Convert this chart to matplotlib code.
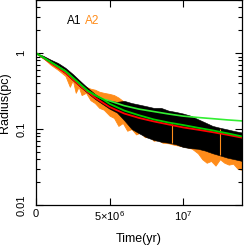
import numpy as np
import matplotlib
matplotlib.use('Agg')
import matplotlib.pyplot as plt
from matplotlib.ticker import LogLocator, NullFormatter, FixedLocator

plt.rcParams['font.family'] = ['Liberation Sans', 'DejaVu Sans']
plt.rcParams['mathtext.fontset'] = 'custom'
plt.rcParams['mathtext.rm'] = 'Liberation Sans'

# time in units of 1e6 yr
t_a1 = [0, 0.5, 1, 1.5, 2, 2.5, 3, 3.5, 4, 4.5, 5, 5.5, 6, 6.5, 7, 7.5, 8, 8.5,
        9, 9.5, 10, 10.5, 11, 11.5, 12, 12.5, 13, 13.5, 14]
a1_top = [1, 0.92, 0.82, 0.74, 0.64, 0.53, 0.43, 0.35, 0.29, 0.25, 0.235, 0.228,
          0.235, 0.22, 0.21, 0.20, 0.19, 0.19, 0.175, 0.168, 0.16, 0.15, 0.135,
          0.122, 0.11, 0.104, 0.099, 0.094, 0.09]
a1_bot = [1, 0.88, 0.74, 0.64, 0.54, 0.44, 0.36, 0.30, 0.25, 0.215, 0.185,
          0.165, 0.13, 0.10, 0.088, 0.078, 0.072, 0.068, 0.066, 0.063, 0.058,
          0.056, 0.055, 0.052, 0.048, 0.045, 0.042, 0.04, 0.038]

t_a2 = [0, 0.5, 1.0, 1.5, 2.0, 2.3, 2.5, 2.7, 2.9, 3.1, 3.4, 3.7, 4.0, 4.3, 4.6,
        5.0, 5.3, 5.6, 5.9, 6.2, 6.5, 6.8, 7.1, 7.4, 7.7, 8.0, 8.3, 8.6, 9.0,
        9.4, 9.8, 10.2, 10.6, 11.0, 11.3, 11.6, 11.9, 12.2, 12.5, 12.8, 13.1,
        13.4, 13.7, 14.0]
a2_top = [1, 0.9, 0.8, 0.68, 0.6, 0.55, 0.5, 0.46, 0.42, 0.39, 0.36, 0.34, 0.33,
          0.31, 0.30, 0.29, 0.28, 0.26, 0.235, 0.20, 0.18, 0.16, 0.15, 0.14,
          0.13, 0.12, 0.11, 0.10, 0.09, 0.08, 0.075, 0.07, 0.065, 0.06, 0.058,
          0.062, 0.055, 0.05, 0.048, 0.047, 0.046, 0.045, 0.044, 0.043]
a2_bot = [1, 0.86, 0.7, 0.6, 0.5, 0.36, 0.44, 0.3, 0.36, 0.28, 0.3, 0.24, 0.22,
          0.19, 0.18, 0.15, 0.14, 0.11, 0.12, 0.095, 0.1, 0.085, 0.09, 0.078,
          0.08, 0.07, 0.072, 0.066, 0.065, 0.062, 0.06, 0.058, 0.055, 0.048,
          0.04, 0.036, 0.038, 0.033, 0.04, 0.036, 0.034, 0.035, 0.03, 0.029]

# thin spikes of A2 seen through A1
spike_t = [9.25, 12.5]
spike_lo = [0.065, 0.045]
spike_hi = [0.115, 0.1]

t_fit = [0, 1, 2, 3, 3.5, 4, 4.5, 5, 6, 7, 8, 9, 10, 11, 12, 13, 14]
fit_red = [1, 0.74, 0.55, 0.37, 0.31, 0.26, 0.225, 0.195, 0.16, 0.14, 0.126,
           0.115, 0.105, 0.098, 0.091, 0.084, 0.077]
fit_green1 = [1, 0.76, 0.58, 0.39, 0.32, 0.28, 0.25, 0.235, 0.203, 0.183, 0.17,
              0.158, 0.148, 0.142, 0.137, 0.132, 0.128]
fit_green2 = [1, 0.76, 0.58, 0.39, 0.32, 0.28, 0.25, 0.215, 0.175, 0.152,
              0.134, 0.122, 0.113, 0.104, 0.096, 0.088, 0.080]

fig = plt.figure(figsize=(2.44, 2.48), dpi=100)
ax = fig.add_axes([36 / 244, 43 / 248, 206 / 244, 205 / 248])

ta1 = np.array(t_a1) * 1e6
ta2 = np.array(t_a2) * 1e6
tf = np.array(t_fit) * 1e6

orange = '#ff8c1a'
ax.fill_between(ta2, a2_bot, a2_top, color=orange, lw=0.6, edgecolor=orange)
ax.fill_between(ta1, a1_bot, a1_top, color='black', lw=0.4, edgecolor='black')
ax.vlines(np.array(spike_t) * 1e6, spike_lo, spike_hi, color=orange, lw=0.8)
ax.plot(tf, fit_red, color='#ff0000', lw=1.3)
ax.plot(tf, fit_green1, color='#33ee33', lw=1.2)
ax.plot(tf, fit_green2, color='#00cc00', lw=1.3)

ax.set_yscale('log')
ax.set_xlim(0, 1.4e7)
ax.set_ylim(0.01, 5)

ax.set_xticks([0, 5e6, 1e7])
ax.set_xticklabels(['0', r'5$\times$10$^6$', r'10$^7$'], fontsize=8)
ax.yaxis.set_major_locator(FixedLocator([0.01, 0.1, 1]))
ax.set_yticklabels(['0.01', '0.1', '1'], fontsize=8, rotation=90, va='center')
ax.yaxis.set_minor_locator(LogLocator(base=10, subs=np.arange(2, 10)))
ax.yaxis.set_minor_formatter(NullFormatter())
ax.tick_params(which='both', direction='in', top=True, right=True, width=0.8)
ax.tick_params(which='major', length=5)
ax.tick_params(axis='x', which='major', pad=3)
ax.tick_params(axis='y', which='major', pad=7)
ax.tick_params(which='minor', length=3)
for s in ax.spines.values():
    s.set_linewidth(0.9)

ax.set_xlabel('Time(yr)', fontsize=9, labelpad=7)
ax.set_ylabel('Radius(pc)', fontsize=9, labelpad=4)

ax.text(0.15, 0.9, 'A1', color='black', fontsize=8.5, transform=ax.transAxes,
        va='center')
ax.text(0.24, 0.9, 'A2', color=orange, fontsize=8.5, transform=ax.transAxes,
        va='center')

fig.savefig('out.png', dpi=100)
